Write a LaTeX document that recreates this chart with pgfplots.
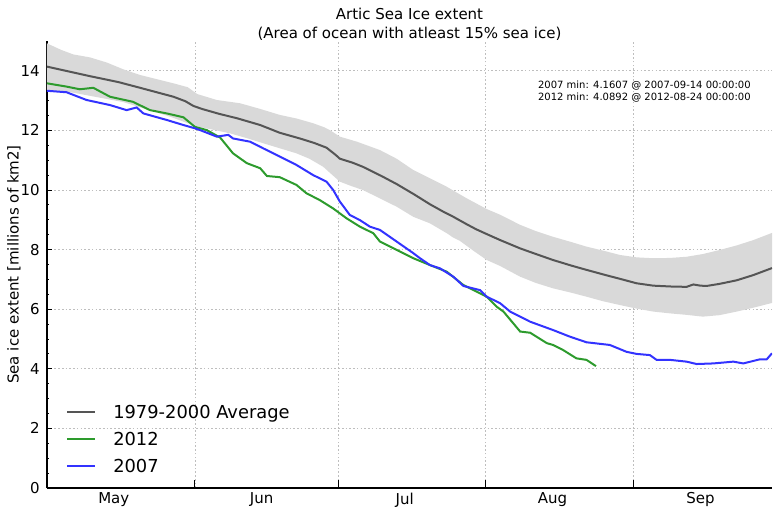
\documentclass[border=0pt]{standalone}
\usepackage{pgfplots}
\pgfplotsset{compat=1.18}
\usepackage{fontspec}
\setmainfont{DejaVu Sans}
\definecolor{avgc}{RGB}{85,85,85}
\definecolor{bandc}{RGB}{217,217,217}
\definecolor{g12}{RGB}{45,155,45}
\definecolor{b07}{RGB}{51,51,255}
\definecolor{gridc}{RGB}{190,190,190}
\begin{document}
\begin{tikzpicture}
\useasboundingbox (-35.25pt,-19.5pt) rectangle (549pt,366pt);
\begin{axis}[
  scale only axis, width=543.75pt, height=335.25pt,
  xmin=0, xmax=152, ymin=0, ymax=15,
  axis x line*=bottom, axis y line*=left,
  axis line style={line width=0.8pt, -},
  xtick={14,45,75,106,137}, xticklabels={May,Jun,Jul,Aug,Sep},
  minor xtick={31,61,92,123},
  ytick={0,2,...,14}, minor ytick={0.5,1,...,14.5},
  xmajorgrids=false, xminorgrids=true, ymajorgrids=true,
  grid style={color=gridc, dash pattern=on 1.2pt off 1.6pt, line width=0.5pt},
  minor grid style={color=gridc, dash pattern=on 1.2pt off 1.6pt, line width=0.5pt},
  tick align=inside,
  major tick length=3.5pt, minor tick length=1.5pt,
  tick style={black, line width=0.6pt},
  major x tick style={draw=none},
  minor x tick style={/pgfplots/minor tick length=6pt},
  ticklabel style={font=\fontsize{11.25}{13.5}\selectfont},
  yticklabel style={xshift=-2pt},
  /pgf/number format/assume math mode=true,
  title={Artic Sea Ice extent\\[0.8pt](Area of ocean with atleast 15\% sea ice)},
  title style={align=center, font=\fontsize{11.25}{13.5}\selectfont, yshift=-9pt},
  ylabel={Sea ice extent [millions of km2]},
  ylabel style={font=\fontsize{11.25}{13.5}\selectfont, at={(axis description cs:-0.0455,0.5)}, anchor=center},
  legend style={draw=none, fill=none, at={(rel axis cs:0,0)}, anchor=south west,
    xshift=11.25pt, yshift=9.5pt, font=\fontsize{13.4}{16}\selectfont,
    row sep=10.25pt, column sep=12.75pt,
    nodes={inner sep=0pt, text height=10pt, text depth=0pt}},
  legend cell align=left,
  legend image code/.code={\draw[#1] (0pt,0pt) -- (21pt,0pt);},
]
% band (mean +/- std)
\addplot[fill=bandc, draw=none, forget plot] coordinates {
(0,14.92) (3,14.7) (5.5,14.55) (9,14.45) (12.5,14.28) (16,14.05) (19.5,13.86) (23,13.72) (26.5,13.58) (29.5,13.45) (31.5,13.22) (35.6,13.02) (40.5,12.91) (44.7,12.72) (48.8,12.52) (52.3,12.40) (55.8,12.24) (58.2,12.10) (59.3,12.01) (61.4,11.79) (65,11.62) (69.8,11.34) (73.3,11.05) (76.8,10.67) (80.3,10.39) (83.8,10.11) (88,9.72) (92.2,9.36) (95,9.17) (99.2,8.83) (102.5,8.62) (106.1,8.43) (110,8.25) (113.1,8.10) (117,7.95) (120.1,7.82) (123.6,7.74) (127.1,7.71) (130.6,7.72) (134.1,7.76) (137.5,7.85) (141.1,7.99) (144.6,8.14) (148.1,8.32) (152,8.56)
(152,6.21) (148.1,6.05) (144.6,5.92) (141,5.80) (137.5,5.75) (134.1,5.81) (130.6,5.86) (127.1,5.92) (123.6,6.02) (120.1,6.14) (116.5,6.27) (113.1,6.42) (110,6.55) (106.1,6.70) (102.5,6.88) (99.2,7.09) (95,7.45) (92.2,7.65) (89.5,7.95) (86.5,8.30) (85.2,8.40) (83.8,8.55) (80.3,8.88) (76.8,9.10) (73.3,9.44) (69.8,9.72) (66.2,10.00) (63.5,10.15) (61.4,10.28) (59.5,10.55) (57.9,10.78) (55,11.05) (52.3,11.23) (48.8,11.40) (45.3,11.57) (41.9,11.74) (38.4,11.90) (34.9,12.02) (31,12.15) (26,12.45) (21,12.70) (16,12.95) (11,13.10) (5,13.28) (0,13.35)
};
% 1979-2000 average
\addplot[color=avgc, line width=1.5pt] coordinates {
(0,14.14) (9,13.82) (15,13.62) (19.5,13.43) (26.5,13.13) (29,12.98) (30.7,12.82) (32.5,12.72) (36,12.56) (40,12.40) (44.7,12.18) (48.8,11.92) (53,11.73) (56,11.58) (58.6,11.42) (60.5,11.18) (61.4,11.05) (64,10.92) (66.2,10.78) (70,10.48) (73.3,10.20) (77,9.85) (80.3,9.52) (83,9.28) (85.2,9.10) (88,8.85) (90,8.68) (92.2,8.52) (95,8.32) (99.2,8.04) (102,7.88) (106.1,7.65) (110,7.46) (113.1,7.32) (117,7.15) (120.1,7.02) (123.6,6.87) (127.1,6.79) (131,6.76) (134.1,6.75) (135.5,6.83) (137,6.79) (138.3,6.78) (141,6.85) (144.6,6.97) (148,7.14) (152,7.38)
};
\addlegendentry{1979-2000 Average}
% 2012
\addplot[color=g12, line width=1.5pt] coordinates {
(0,13.58) (4.1,13.47) (6.9,13.38) (9.7,13.43) (13.2,13.13) (18.0,12.96) (21.6,12.68) (25.1,12.57) (28.6,12.44) (31.0,12.12) (33.5,12.01) (36.3,11.76) (39.0,11.23) (41.9,10.90) (44.7,10.73) (46.1,10.47) (48.8,10.43) (52.3,10.17) (54.4,9.89) (57.2,9.66) (60.0,9.38) (62.8,9.05) (65.6,8.77) (68.4,8.55) (69.8,8.27) (73.3,7.99) (76.8,7.71) (80.3,7.48) (83.8,7.26) (87.3,6.81) (90.8,6.53) (92.2,6.42) (94.3,6.08) (95.7,5.92) (99.2,5.25) (101.3,5.21) (104.8,4.86) (106.1,4.80) (108.2,4.63) (111.0,4.35) (113.1,4.30) (115.1,4.09)
};
\addlegendentry{2012}
% 2007
\addplot[color=b07, line width=1.5pt] coordinates {
(0,13.33) (4.1,13.28) (8.3,13.02) (13.2,12.85) (16.7,12.68) (18.8,12.77) (20.2,12.57) (25.1,12.35) (28.6,12.18) (31.0,12.07) (32.1,12.01) (35.6,11.79) (38.0,11.85) (39.0,11.73) (42.6,11.62) (45.3,11.40) (48.8,11.12) (52.3,10.84) (55.8,10.50) (58.6,10.28) (60.0,10.00) (61.4,9.61) (63.5,9.16) (65.6,8.99) (67.7,8.77) (69.8,8.66) (73.3,8.27) (76.8,7.88) (78.2,7.71) (80.3,7.48) (82.4,7.37) (85.2,7.09) (87.3,6.78) (90.8,6.64) (92.2,6.42) (95.0,6.20) (97.1,5.92) (101.3,5.58) (106.1,5.30) (109.6,5.08) (113.1,4.89) (118.0,4.80) (121.5,4.57) (123.6,4.50) (126.4,4.46) (127.8,4.30) (130.6,4.30) (134.1,4.24) (136.2,4.16) (139.7,4.18) (143.9,4.24) (146.0,4.18) (149.5,4.32) (150.9,4.32) (152,4.52)
};
\addlegendentry{2007}
\node[anchor=west, align=left, font=\fontsize{7.5}{9.4}\selectfont, inner sep=0pt] at (axis cs:102.9,13.3) {2007 min: 4.1607 @ 2007-09-14 00:00:00\\2012 min: 4.0892 @ 2012-08-24 00:00:00};
\end{axis}
\end{tikzpicture}
\end{document}
